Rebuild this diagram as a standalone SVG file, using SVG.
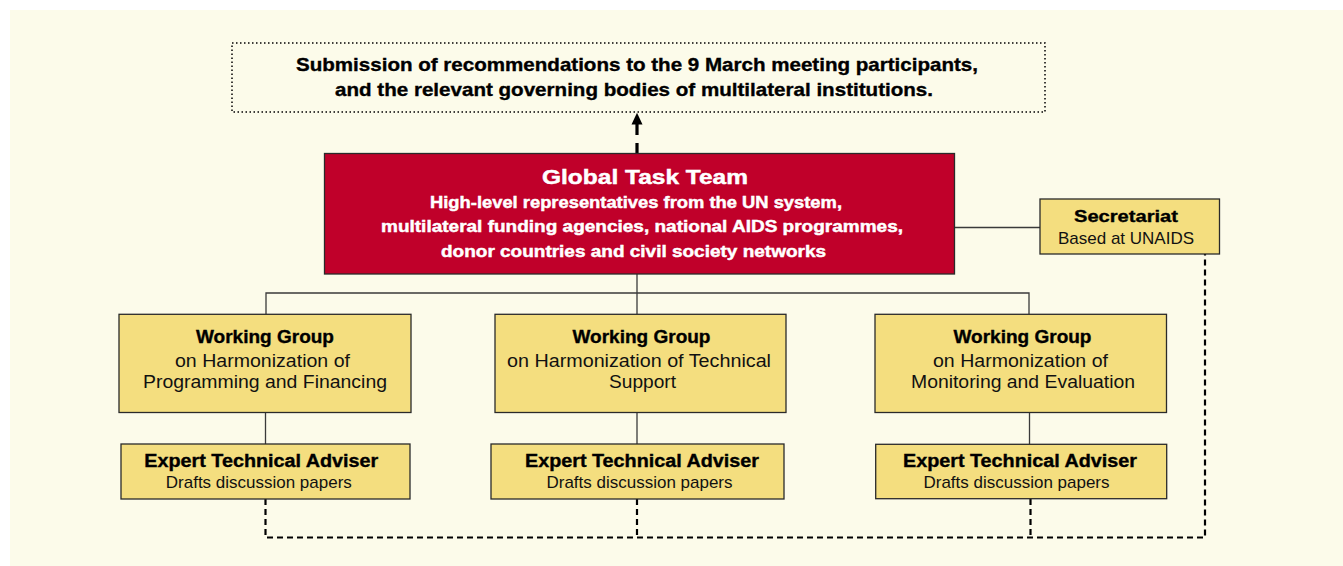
<svg xmlns="http://www.w3.org/2000/svg" width="1343" height="566" viewBox="0 0 1343 566">
<style>
.b{font-family:"Liberation Sans",Arial,sans-serif;font-weight:bold;text-anchor:middle;fill:#000;stroke:#000;stroke-width:0.35}
.r{font-family:"Liberation Sans",Arial,sans-serif;text-anchor:middle;fill:#111}
.w{fill:#fff;stroke:#fff;stroke-width:0.45}
.box{fill:#f4de7f;stroke:#2a2a2a;stroke-width:1.3}
.ln{stroke:#3a3a3a;stroke-width:1.3;fill:none}
.dash{stroke:#000;stroke-width:2.2;stroke-dasharray:6 4;fill:none}
</style>
<rect x="0" y="0" width="1343" height="566" fill="#fff"/>
<rect x="10" y="10" width="1333" height="556" fill="#fcfbea"/>

<g id="connectors">
<line class="ln" x1="954" y1="227.5" x2="1040" y2="227.5"/>
<line class="ln" x1="637" y1="274" x2="637" y2="314"/>
<polyline class="ln" points="266,314 266,293 1029,293 1029,314"/>
<line class="ln" x1="265.5" y1="412.5" x2="265.5" y2="444"/>
<line class="ln" x1="637" y1="412.5" x2="637" y2="444"/>
<line class="ln" x1="1029.5" y1="412.5" x2="1029.5" y2="444"/>
<polyline class="dash" points="265.5,499 265.5,537.5 1205,537.5 1205,254"/>
<line class="dash" x1="637" y1="499" x2="637" y2="537.5"/>
<line class="dash" x1="1030.5" y1="499" x2="1030.5" y2="537.5"/>
<path d="M637,153 L637,143 M637,135 L637,124" stroke="#000" stroke-width="3.2" fill="none"/>
<path d="M631.5,124.5 L637,112.7 L642.5,124.5 Z" fill="#000"/>
</g>

<g id="submission">
<rect x="232" y="43" width="813" height="69" fill="#fcfbea" stroke="#000" stroke-width="1.5" stroke-dasharray="1.5 2.5"/>
<text class="b" x="637" y="70.5" font-size="18.5" textLength="682" lengthAdjust="spacingAndGlyphs">Submission of recommendations to the 9 March meeting participants,</text>
<text class="b" x="634" y="96" font-size="18.5" textLength="598" lengthAdjust="spacingAndGlyphs">and the relevant governing bodies of multilateral institutions.</text>
</g>

<g id="gtt">
<rect x="324.5" y="153.5" width="630" height="120.5" fill="#c0002a" stroke="#2a2a2a" stroke-width="1.3"/>
<text class="b w" x="645" y="183.5" font-size="20.5" textLength="206" lengthAdjust="spacingAndGlyphs">Global Task Team</text>
<text class="b w" x="636" y="208" font-size="16.5" textLength="412" lengthAdjust="spacingAndGlyphs">High-level representatives from the UN system,</text>
<text class="b w" x="642" y="232" font-size="16.5" textLength="522" lengthAdjust="spacingAndGlyphs">multilateral funding agencies, national AIDS programmes,</text>
<text class="b w" x="633.5" y="256.5" font-size="16.5" textLength="385" lengthAdjust="spacingAndGlyphs">donor countries and civil society networks</text>
</g>

<g id="secretariat">
<rect class="box" x="1040" y="199" width="179.5" height="55"/>
<text class="b" x="1126" y="222.3" font-size="16.5" textLength="104" lengthAdjust="spacingAndGlyphs">Secretariat</text>
<text class="r" x="1126" y="244" font-size="17" textLength="136" lengthAdjust="spacingAndGlyphs">Based at UNAIDS</text>
</g>

<g id="wg1">
<rect class="box" x="119" y="314.3" width="292" height="98.2"/>
<text class="b" x="265" y="343.3" font-size="18" textLength="138" lengthAdjust="spacingAndGlyphs">Working Group</text>
<text class="r" x="262.5" y="366.7" font-size="17.5" textLength="175" lengthAdjust="spacingAndGlyphs">on Harmonization of</text>
<text class="r" x="265" y="388.3" font-size="17.5" textLength="244" lengthAdjust="spacingAndGlyphs">Programming and Financing</text>
</g>

<g id="wg2">
<rect class="box" x="495" y="314.3" width="291" height="98.2"/>
<text class="b" x="641.5" y="343.3" font-size="18" textLength="138" lengthAdjust="spacingAndGlyphs">Working Group</text>
<text class="r" x="639" y="366.7" font-size="17.5" textLength="264" lengthAdjust="spacingAndGlyphs">on Harmonization of Technical</text>
<text class="r" x="642.5" y="388.3" font-size="17.5" textLength="67" lengthAdjust="spacingAndGlyphs">Support</text>
</g>

<g id="wg3">
<rect class="box" x="875" y="314.3" width="291.5" height="98.2"/>
<text class="b" x="1022.5" y="343.3" font-size="18" textLength="138" lengthAdjust="spacingAndGlyphs">Working Group</text>
<text class="r" x="1020.5" y="366.7" font-size="17.5" textLength="175" lengthAdjust="spacingAndGlyphs">on Harmonization of</text>
<text class="r" x="1023" y="388.3" font-size="17.5" textLength="224" lengthAdjust="spacingAndGlyphs">Monitoring and Evaluation</text>
</g>

<g id="eta1">
<rect class="box" x="121" y="444" width="289" height="55"/>
<text class="b" x="261.3" y="466.7" font-size="17.5" textLength="234" lengthAdjust="spacingAndGlyphs">Expert Technical Adviser</text>
<text class="r" x="258.8" y="487.7" font-size="17" textLength="186" lengthAdjust="spacingAndGlyphs">Drafts discussion papers</text>
</g>

<g id="eta2">
<rect class="box" x="491" y="444" width="293" height="55"/>
<text class="b" x="642" y="466.7" font-size="17.5" textLength="234" lengthAdjust="spacingAndGlyphs">Expert Technical Adviser</text>
<text class="r" x="639.5" y="487.7" font-size="17" textLength="186" lengthAdjust="spacingAndGlyphs">Drafts discussion papers</text>
</g>

<g id="eta3">
<rect class="box" x="875.7" y="444.3" width="291" height="54.4"/>
<text class="b" x="1020" y="466.7" font-size="17.5" textLength="234" lengthAdjust="spacingAndGlyphs">Expert Technical Adviser</text>
<text class="r" x="1016.5" y="487.7" font-size="17" textLength="186" lengthAdjust="spacingAndGlyphs">Drafts discussion papers</text>
</g>
</svg>
